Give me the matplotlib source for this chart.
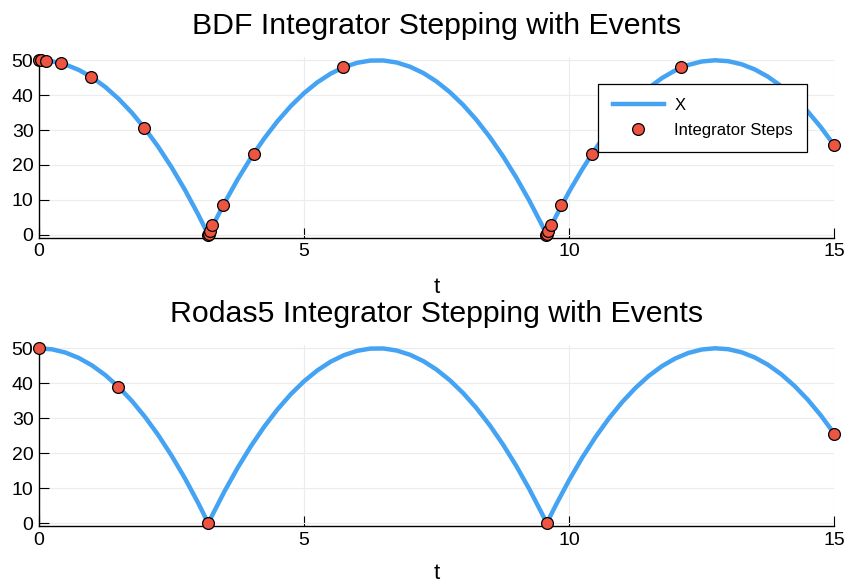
import matplotlib
matplotlib.use("Agg")
import matplotlib.pyplot as plt

# solution curve x(t)
t_curve = [0.0, 0.25, 0.5, 0.75, 1.0, 1.25, 1.5, 1.75, 2.0, 2.25, 2.5, 2.75, 3.0, 3.193,
           3.25, 3.5, 3.75, 4.0, 4.25, 4.5, 4.75, 5.0, 5.25, 5.5, 5.75, 6.0, 6.25, 6.5,
           6.75, 7.0, 7.25, 7.5, 7.75, 8.0, 8.25, 8.5, 8.75, 9.0, 9.25, 9.5, 9.578,
           9.75, 10.0, 10.25, 10.5, 10.75, 11.0, 11.25, 11.5, 11.75, 12.0, 12.25, 12.5,
           12.75, 13.0, 13.25, 13.5, 13.75, 14.0, 14.25, 14.5, 14.75, 15.0]
x_curve = [50.0, 49.69, 48.77, 47.24, 45.10, 42.34, 38.96, 34.98, 30.38, 25.17, 19.34, 12.91, 5.86, 0.0,
           1.79, 9.17, 15.94, 22.10, 27.64, 32.57, 36.89, 40.59, 43.68, 46.16, 48.02, 49.27, 49.91, 49.94,
           49.35, 48.14, 46.33, 43.90, 40.86, 37.21, 32.94, 28.06, 22.57, 16.46, 9.74, 2.41, 0.0,
           5.23, 12.34, 18.83, 24.70, 29.97, 34.62, 38.65, 42.08, 44.89, 47.08, 48.67, 49.64,
           50.00, 49.74, 48.87, 47.39, 45.30, 42.59, 39.27, 35.34, 30.79, 25.63]

# integrator steps
bdf_t = [0.0, 0.03, 0.13, 0.415, 0.98, 1.98, 3.19, 3.20, 3.22, 3.27, 3.47, 4.05, 5.73,
         9.57, 9.58, 9.60, 9.65, 9.85, 10.43, 12.11, 15.0]
bdf_x = [50.0, 50.0, 49.9, 49.2, 45.3, 30.6, 0.0, 0.3, 1.0, 2.9, 8.6, 23.2, 48.0,
         0.0, 0.3, 1.0, 2.9, 8.6, 23.2, 48.0, 25.6]
rodas_t = [0.0, 1.49, 3.19, 9.58, 15.0]
rodas_x = [50.0, 39.0, 0.0, 0.0, 25.6]

titles = ["BDF Integrator Stepping with Events", "Rodas5 Integrator Stepping with Events"]

plt.rcParams["font.family"] = ["Liberation Sans", "DejaVu Sans"]
LINE_C = "#45a3f3"
MARK_C = "#ee5442"

fig = plt.figure(figsize=(8.45, 5.83), dpi=100)
ax1 = fig.add_axes([0.0462, 0.592, 0.941, 0.310])
ax2 = fig.add_axes([0.0462, 0.097, 0.941, 0.311])

for ax, st, sx, title in [(ax1, bdf_t, bdf_x, titles[0]), (ax2, rodas_t, rodas_x, titles[1])]:
    ax.plot(t_curve, x_curve, color=LINE_C, lw=3.2, label="X", zorder=2)
    ax.plot(st, sx, "o", ms=8.5, mfc=MARK_C, mec="black", mew=0.9,
            label="Integrator Steps", zorder=3, clip_on=False)
    ax.set_xlim(0, 15)
    ax.set_ylim(-0.9, 50.9)
    ax.set_xticks([0, 5, 10, 15])
    ax.set_yticks([0, 10, 20, 30, 40, 50])
    ax.grid(True, color="#ececec", lw=0.8)
    ax.set_axisbelow(True)
    for s in ["top", "right"]:
        ax.spines[s].set_visible(False)
    ax.spines["left"].set_linewidth(1.0)
    ax.spines["bottom"].set_linewidth(1.0)
    ax.tick_params(direction="in", length=7, width=0.8, labelsize=14, pad=4)
    ax.set_title(title, fontsize=21.8, pad=17)
    ax.set_xlabel("t", fontsize=16, labelpad=12 if ax is ax1 else 10)

leg = ax1.legend(loc="upper right", bbox_to_anchor=(0.966, 0.851), fontsize=12,
                 frameon=True, fancybox=False, framealpha=1, edgecolor="black",
                 borderpad=0.85, borderaxespad=0, handlelength=3.1, handletextpad=0.6,
                 labelspacing=0.6)
leg.get_frame().set_linewidth(0.9)

fig.savefig("out.png", dpi=100)
